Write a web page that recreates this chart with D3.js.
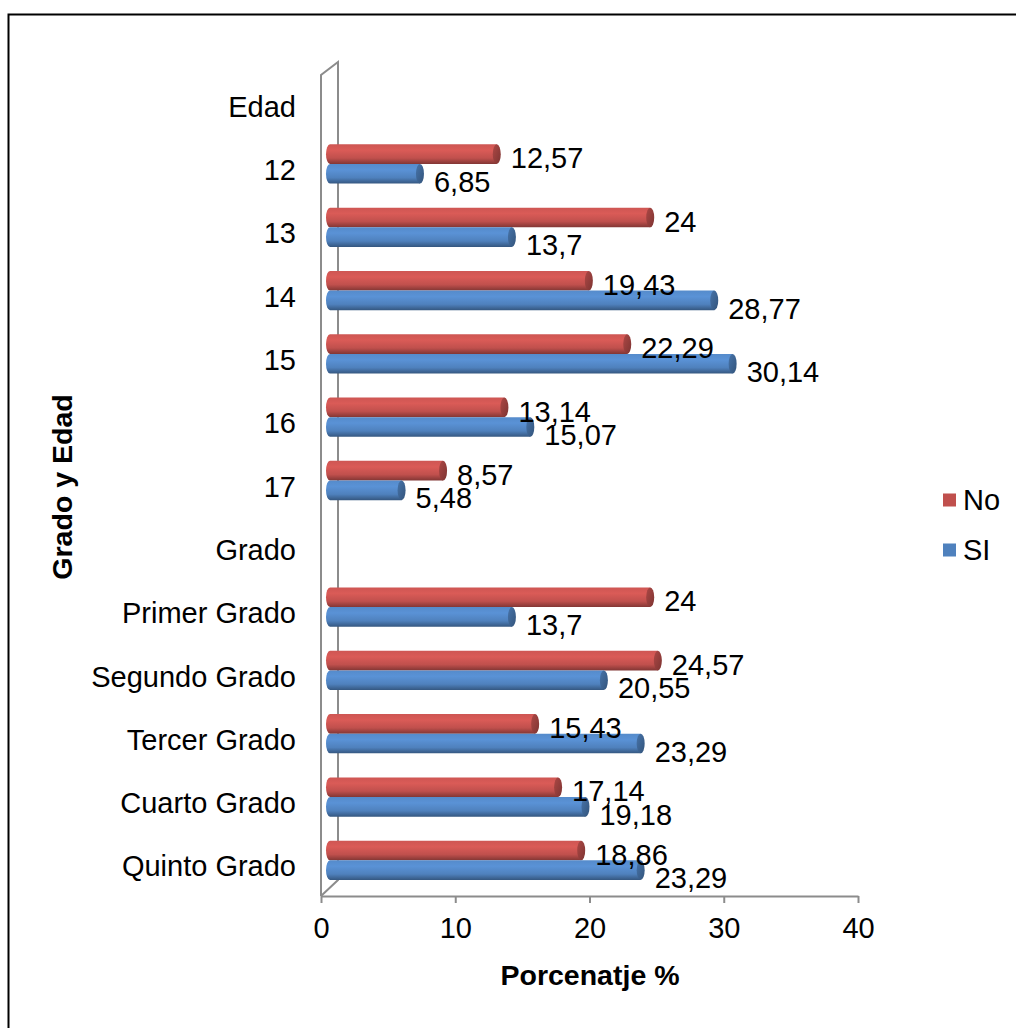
<!DOCTYPE html>
<html>
<head>
<meta charset="utf-8">
<script src="https://cdn.jsdelivr.net/npm/d3@7"></script>
<style>
    body { margin: 0; background: #fff; }
    text { font-family: "Liberation Sans", Arial, sans-serif; }
</style>
</head>
<body>
<svg id="chart"></svg>
<script>
    const categories = ["Edad", "12", "13", "14", "15", "16", "17", "Grado",
        "Primer Grado", "Segundo Grado", "Tercer Grado", "Cuarto Grado", "Quinto Grado"];
    const seriesNames = ["No", "SI"];
    const noValues = [null, 12.57, 24, 19.43, 22.29, 13.14, 8.57, null, 24, 24.57, 15.43, 17.14, 18.86];
    const siValues = [null, 6.85, 13.7, 28.77, 30.14, 15.07, 5.48, null, 13.7, 20.55, 23.29, 19.18, 23.29];
    const xTicks = [0, 10, 20, 30, 40];

    const width = 1016;
    const height = 1028;
    const colors = { "No": "#C0504D", "SI": "#4F81BD" };
    const fontSize = 29;

    const svg = d3.select("#chart")
        .attr("width", width)
        .attr("height", height);

    // outer frame
    svg.append("rect")
        .attr("x", 8.5).attr("y", 14.5)
        .attr("width", 1030).attr("height", 1040)
        .attr("fill", "none")
        .attr("stroke", "#000")
        .attr("stroke-width", 2);

    const x = d3.scaleLinear().domain([0, 40]).range([321, 858]);
    const y = d3.scaleBand().domain(categories).range([75, 898])
        .paddingInner(0.38).paddingOuter(0.19);
    const ySeries = d3.scaleBand().domain(seriesNames).range([0, y.bandwidth()]);

    // depth offsets (3d look)
    const wallDx = 17, wallDy = -14;
    const barDy = -6;

    const defs = svg.append("defs");
    seriesNames.forEach((name) => {
        const c = d3.color(colors[name]);
        const g = defs.append("linearGradient")
            .attr("id", "grad-" + name)
            .attr("x1", 0).attr("y1", 0).attr("x2", 0).attr("y2", 1);
        g.append("stop").attr("offset", "0%").attr("stop-color", c.brighter(0.2));
        g.append("stop").attr("offset", "30%").attr("stop-color", c.brighter(0.35));
        g.append("stop").attr("offset", "70%").attr("stop-color", c);
        g.append("stop").attr("offset", "100%").attr("stop-color", c.darker(1.1));

        const cap = defs.append("linearGradient")
            .attr("id", "cap-" + name)
            .attr("x1", 0).attr("y1", 0).attr("x2", 1).attr("y2", 1);
        cap.append("stop").attr("offset", "0%").attr("stop-color", c.darker(0.3));
        cap.append("stop").attr("offset", "100%").attr("stop-color", c.darker(1.2));
    });

    // walls
    const wall = svg.append("g")
        .attr("fill", "none")
        .attr("stroke", "#8c8c8c")
        .attr("stroke-width", 2);
    const x0 = x(0), yTop = 75, yBot = 896;
    wall.append("path")
        .attr("d", `M${x0},${yBot} L${x0},${yTop} L${x0 + wallDx},${yTop + wallDy + 1} L${x0 + wallDx},${yBot + wallDy - 2} L${x0},${yBot}`);

    // x axis
    const xAxis = svg.append("g")
        .attr("transform", `translate(0, ${yBot})`)
        .call(d3.axisBottom(x).tickValues(xTicks).tickSize(7).tickSizeOuter(0).tickPadding(14));
    xAxis.select(".domain").attr("stroke", "#8c8c8c").attr("stroke-width", 2);
    xAxis.selectAll(".tick line").attr("stroke", "#8c8c8c").attr("stroke-width", 2);
    xAxis.selectAll(".tick text")
        .attr("font-size", fontSize)
        .attr("fill", "#000")
        .attr("font-family", "Liberation Sans, Arial, sans-serif");

    // category labels
    svg.append("g")
        .selectAll("text")
        .data(categories)
        .enter()
        .append("text")
        .attr("x", 296)
        .attr("y", (d) => y(d) + y.bandwidth() / 2)
        .attr("dy", "0.35em")
        .attr("text-anchor", "end")
        .attr("font-size", fontSize)
        .text((d) => d);

    // bars
    const rows = [];
    categories.forEach((cat, i) => {
        if (noValues[i] !== null) rows.push({ cat, series: "No", value: noValues[i] });
        if (siValues[i] !== null) rows.push({ cat, series: "SI", value: siValues[i] });
    });

    const bars = svg.append("g");
    const capRx = 4;
    rows.forEach((d) => {
        const top = y(d.cat) + ySeries(d.series) + barDy;
        const h = ySeries.bandwidth();
        const left = x(0) + 9;
        const right = x(d.value) + 7;
        const g = bars.append("g").attr("class", "bar");
        g.append("path")
            .attr("d", `M${left},${top} L${right},${top} L${right},${top + h} L${left},${top + h}
                A${capRx},${h / 2} 0 0 1 ${left},${top} Z`)
            .attr("fill", `url(#grad-${d.series})`);
        g.append("ellipse")
            .attr("cx", right)
            .attr("cy", top + h / 2)
            .attr("rx", capRx)
            .attr("ry", h / 2)
            .attr("fill", `url(#cap-${d.series})`);
        d.labelX = x(d.value) + 21;
        d.labelY = top + h / 2 + (d.series === "No" ? 4 : 8);
    });

    // value labels
    svg.append("g")
        .selectAll("text")
        .data(rows)
        .enter()
        .append("text")
        .attr("x", (d) => d.labelX)
        .attr("y", (d) => d.labelY)
        .attr("dy", "0.35em")
        .attr("font-size", fontSize)
        .text((d) => String(d.value).replace(".", ","));

    // axis titles
    svg.append("text")
        .attr("x", 590)
        .attr("y", 975)
        .attr("dy", "0.35em")
        .attr("text-anchor", "middle")
        .attr("font-size", 28.5)
        .attr("font-weight", "bold")
        .text("Porcenatje %");

    svg.append("text")
        .attr("transform", `translate(62, 487) rotate(-90)`)
        .attr("dy", "0.35em")
        .attr("text-anchor", "middle")
        .attr("font-size", 28.5)
        .attr("font-weight", "bold")
        .text("Grado y Edad");

    // legend
    const legend = svg.append("g")
        .selectAll("g")
        .data(seriesNames)
        .enter()
        .append("g")
        .attr("transform", (d, i) => `translate(943, ${500 + i * 50})`);
    legend.append("rect")
        .attr("x", 0).attr("y", -6.5)
        .attr("width", 13).attr("height", 13)
        .attr("fill", (d) => colors[d]);
    legend.append("text")
        .attr("x", 20)
        .attr("y", 0)
        .attr("dy", "0.35em")
        .attr("font-size", fontSize)
        .text((d) => d);
</script>
</body>
</html>
